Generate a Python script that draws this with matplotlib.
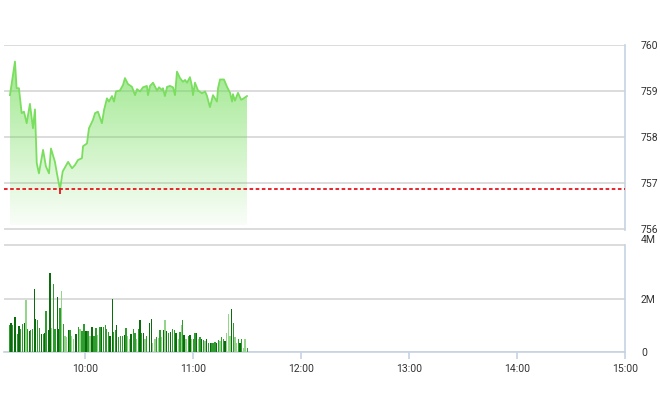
import numpy as np
import matplotlib
matplotlib.use("Agg")
import matplotlib.pyplot as plt
from matplotlib.patches import Polygon

plt.rcParams['font.family'] = ['Roboto', 'DejaVu Sans']

# price line: minutes after 9:00, index value
price_min = [18.3, 21.1, 22.0, 23.3, 24.8, 26.1, 27.6, 29.4, 31.1, 32.2, 33.2, 34.4,
             36.7, 38.3, 40.0, 41.1, 43.3, 44.4, 46.1, 47.6, 50.6, 52.8, 54.4, 56.1,
             58.3, 58.9, 61.1, 62.2, 64.4, 65.6, 67.2, 69.4, 70.6, 72.2, 73.3, 75.0,
             76.1, 77.2, 79.4, 81.1, 82.2, 83.9, 86.1, 87.8, 88.9, 90.6, 92.2, 94.4,
             95.0, 96.1, 97.8, 100.0, 101.1, 102.8, 103.3, 104.4, 105.6, 107.2, 108.9,
             110.0, 111.1, 112.8, 114.4, 115.6, 116.7, 118.3, 119.4, 120.0, 121.1,
             122.8, 125.0, 126.7, 127.8, 129.4, 131.1, 133.3, 133.9, 135.0, 137.2,
             138.9, 140.6, 141.7, 142.2, 143.3, 145.0, 146.7, 147.8, 150.0]
price_val = [758.91, 759.64, 759.06, 759.06, 758.52, 758.55, 758.30, 758.72, 758.19,
             758.60, 757.43, 757.21, 757.72, 757.36, 757.21, 757.75, 757.46, 757.21,
             756.86, 757.25, 757.46, 757.32, 757.39, 757.50, 757.54, 757.80, 757.86,
             758.19, 758.37, 758.52, 758.55, 758.30, 758.59, 758.84, 758.77, 758.89,
             758.77, 758.99, 759.01, 759.13, 759.28, 759.15, 759.09, 758.91, 759.04,
             758.99, 759.08, 759.11, 758.91, 759.11, 759.18, 759.01, 759.08, 759.02,
             759.06, 758.89, 759.09, 759.11, 759.08, 758.91, 759.42, 759.28, 759.20,
             759.24, 759.18, 759.30, 759.11, 758.91, 759.18, 759.01, 758.95, 758.99,
             758.89, 758.65, 758.91, 758.77, 759.06, 759.25, 759.25, 759.09, 758.96,
             758.77, 758.93, 758.79, 758.96, 758.81, 758.83, 758.89]
ref_price = 756.87

# volume bars (millions) and shade group (d = dark, m = mid, l = light)
vol_min = [18.3, 18.9, 19.8, 21.1, 22.4, 23.3, 24.3, 25.4, 26.7, 27.2, 28.0, 29.1, 29.8,
           30.9, 31.9, 32.6, 33.5, 34.6, 35.9, 36.9, 37.6, 38.3, 39.6, 40.6, 41.5, 42.4,
           43.3, 44.6, 45.4, 46.1, 47.0, 48.0, 48.9, 49.8, 50.7, 51.7, 52.4, 53.5, 55.0,
           56.3, 57.2, 58.3, 59.4, 60.6, 61.7, 62.8, 63.9, 65.0, 66.1, 67.0, 68.3, 69.3,
           70.2, 71.3, 72.0, 73.1, 73.9, 75.2, 75.7, 76.9, 77.6, 78.7, 79.8, 80.9, 82.0,
           82.8, 83.5, 84.6, 85.6, 86.9, 87.8, 88.7, 89.6, 90.6, 91.5, 92.4, 93.3, 94.3,
           95.7, 97.0, 97.6, 98.9, 99.8, 100.7, 101.7, 102.6, 103.5, 104.4, 105.4, 106.3,
           107.6, 108.7, 109.6, 110.6, 111.9, 112.8, 113.7, 114.3, 115.0, 116.1, 117.4,
           118.3, 119.3, 120.2, 121.1, 122.0, 123.0, 123.9, 124.8, 125.7, 126.7, 127.6,
           128.7, 129.6, 130.6, 131.3, 132.2, 133.1, 134.1, 135.0, 135.9, 136.9, 137.8,
           138.7, 139.6, 140.6, 141.5, 142.4, 143.3, 144.3, 145.2, 146.1, 147.0, 148.0,
           148.9, 150.2]
vol_val = [1.00, 1.09, 1.00, 1.32, 0.66, 0.97, 0.85, 1.03, 1.09, 1.94, 0.85, 0.78, 0.82,
           0.87, 2.36, 1.24, 1.19, 0.91, 0.66, 0.66, 0.72, 1.53, 0.82, 2.96, 0.91, 2.56,
           0.87, 2.06, 0.87, 1.65, 2.28, 1.03, 0.60, 0.57, 0.82, 0.82, 0.60, 0.47, 0.66,
           0.95, 0.87, 0.78, 1.03, 0.78, 0.78, 0.60, 0.95, 0.60, 0.91, 0.62, 0.95, 0.95,
           0.95, 1.00, 0.87, 0.75, 0.60, 2.00, 0.75, 0.82, 1.00, 0.57, 0.60, 0.60, 0.62,
           0.91, 0.60, 0.47, 0.66, 0.87, 0.72, 0.47, 0.87, 1.19, 0.70, 0.70, 0.50, 0.60,
           1.09, 1.24, 0.35, 0.47, 0.57, 0.53, 0.82, 0.57, 0.82, 1.19, 0.78, 0.70, 0.75,
           0.85, 0.82, 0.72, 0.50, 0.75, 1.00, 1.19, 0.62, 0.50, 0.60, 0.62, 0.47, 0.50,
           0.70, 0.70, 0.50, 0.57, 0.47, 0.45, 0.41, 0.50, 0.32, 0.32, 0.35, 0.35, 0.37,
           0.35, 0.45, 0.41, 0.57, 0.50, 0.41, 0.70, 1.41, 0.60, 1.59, 1.09, 0.57, 0.35,
           0.47, 0.35, 0.50, 0.16, 0.50, 0.16]
vol_shade = list("mdmdmdmmdl" "mdmmddmmdm" "dmddlmmddm" "lmlldmlldm" "lmmdmldmml"
                 "mdmmmmddmm" "dmmmdmlldm" "mlmdmdlmdd" "llmlmldldm" "dmmdlmlmdl"
                 "mdlmmdlmdm" "ldmdmmmdml" "mmdllldmll" "mdmllm")

hour_ticks = [60, 120, 180, 240, 300, 360]
hour_labels = ["10:00", "11:00", "12:00", "13:00", "14:00", "15:00"]

shade_col = {'d': '#0c6b0c', 'm': '#2f9c2f', 'l': '#93d68a'}
grid_col = '#d9d9d9'
axis_col = '#c5d3e3'
text_col = '#333333'

fig = plt.figure(figsize=(6.6, 4.12), dpi=100)
ax = fig.add_axes([4 / 660, 1 - 229.5 / 412, 621 / 660, 185 / 412])
axv = fig.add_axes([4 / 660, 1 - 352 / 412, 621 / 660, 107.5 / 412])

# price panel
ax.set_xlim(15, 360)
ax.set_ylim(755.99, 760.01)
x = np.array(price_min)
y = np.array(price_val)
base = 756.08
poly = Polygon(np.column_stack([np.r_[x, x[::-1]], np.r_[y, np.full(len(x), base)]]),
               closed=True, facecolor='none', edgecolor='none')
ax.add_patch(poly)
grad = np.zeros((256, 1, 4))
t = np.linspace(0, 1, 256)[:, None]
grad[..., 0] = 0.42
grad[..., 1] = 0.86
grad[..., 2] = 0.32
grad[..., 3] = 0.04 + 0.62 * t
img = ax.imshow(grad, extent=[x.min(), x.max(), base, 759.7], origin='lower',
                aspect='auto', zorder=2)
img.set_clip_path(poly)
ax.plot(x, y, color='#7ade5e', lw=1.3, zorder=3)
ax.axhline(ref_price, color='#e8141c', lw=1.3, dashes=(2, 1.4), zorder=4)
imin = int(np.argmin(y))
ax.plot(x[imin], y[imin] - 0.03, marker='|', color='#e8141c', ms=5, mew=1.3, zorder=5)

ax.set_yticks([756, 757, 758, 759, 760])
ax.yaxis.tick_right()
ax.tick_params(axis='y', length=0, pad=11.5, labelsize=7.5, labelcolor=text_col)
ax.set_xticks([])
ax.grid(axis='y', color=grid_col, lw=1.3)
ax.set_axisbelow(True)
for s in ['top', 'left', 'bottom']:
    ax.spines[s].set_visible(False)
ax.spines['right'].set_color(axis_col)
ax.spines['right'].set_linewidth(1.2)

# volume panel
axv.set_xlim(15, 360)
axv.set_ylim(0, 4.02)
axv.bar(vol_min, vol_val, width=0.8, color=[shade_col[c] for c in vol_shade],
        linewidth=0, zorder=3)
axv.set_yticks([0, 2, 4])
axv.set_yticklabels(["0", "2M", "4M"])
axv.yaxis.tick_right()
axv.tick_params(axis='y', length=0, pad=11.5, labelsize=7.5, labelcolor=text_col)
axv.get_yticklabels()[2].set_va('bottom')
axv.set_xticks(hour_ticks)
axv.set_xticklabels(hour_labels)
axv.tick_params(axis='x', length=5, width=1.2, color=axis_col, pad=4,
                labelsize=7.5, labelcolor=text_col)
axv.grid(axis='y', color=grid_col, lw=1.3)
axv.set_axisbelow(True)
for s in ['top', 'left']:
    axv.spines[s].set_visible(False)
for s in ['right', 'bottom']:
    axv.spines[s].set_color(axis_col)
    axv.spines[s].set_linewidth(1.2)

fig.savefig("out.png", dpi=100)
